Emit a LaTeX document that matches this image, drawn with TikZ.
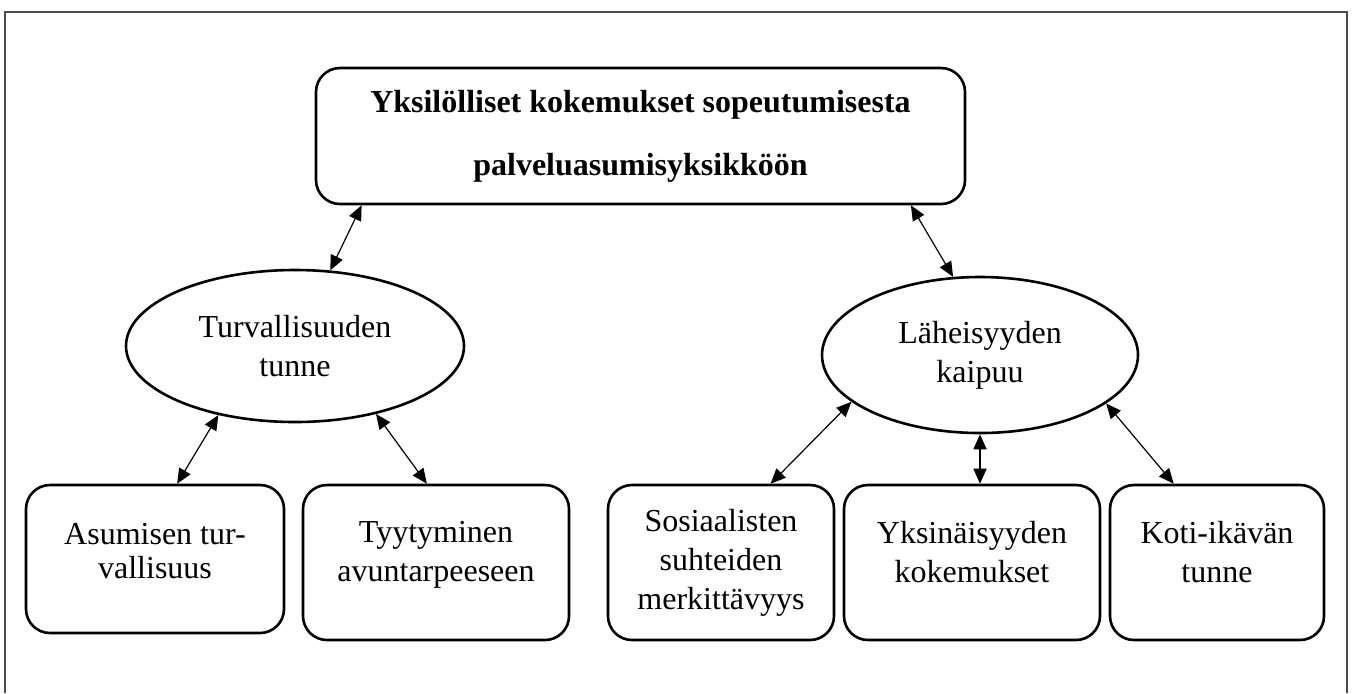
\documentclass[tikz,border=0pt]{standalone}
\usepackage{fontspec}
\setmainfont{Liberation Serif}
\usetikzlibrary{shapes.geometric,arrows.meta,calc}
\begin{document}
\begin{tikzpicture}[x=0.5pt,y=-0.5pt,
  txt/.style={font=\fontsize{16}{19.5}\selectfont},
  box/.style={draw,line width=1.3pt,rounded corners=12pt,align=center,inner sep=0pt,txt},
  oval/.style={draw,ellipse,line width=1.3pt,align=center,inner sep=0pt,txt},
  link/.style={line width=0.6pt,{Triangle[length=7.5pt,width=6.5pt]}-{Triangle[length=7.5pt,width=6.5pt]}},
  frame/.style={draw=black!70,line width=1pt}
]
\useasboundingbox (0,0) rectangle (1352,693);
\draw[frame] (5,693) -- (5,12) -- (1347,12) -- (1347,693);

\node[box, minimum width=324.5pt, minimum height=68pt,
      font=\bfseries\fontsize{16}{31.5}\selectfont] (top) at (640.5,136)
  {Yksilölliset kokemukset sopeutumisesta\\palveluasumisyksikköön};

\node[oval, minimum width=169pt, minimum height=76pt] (sec) at (295,346) {Turvallisuuden\\tunne};
\node[oval, minimum width=158pt, minimum height=78pt] (near) at (980,355) {Läheisyyden\\kaipuu};

\node[box, minimum width=129pt, minimum height=74pt, font=\fontsize{16}{17}\selectfont, text depth=8pt] (a) at (155,559) {Asumisen tur-\\vallisuus};
\node[box, minimum width=133pt, minimum height=77.5pt, text depth=11.5pt] (b) at (436,562.5) {Tyytyminen\\avuntarpeeseen};
\node[box, minimum width=113pt, minimum height=77.5pt] (c) at (721,562.5) {Sosiaalisten\\suhteiden\\merkittävyys};
\node[box, minimum width=128pt, minimum height=77.5pt, text depth=11pt] (d) at (972,562.5) {Yksinäisyyden\\kokemukset};
\node[box, minimum width=107pt, minimum height=77.5pt, text depth=11pt] (e) at (1217,562.5) {Koti-ikävän\\tunne};

\draw[link] ($(top.south west)!0.072!(top.south east)$) -- (sec.65.8);
\draw[link] ($(top.south west)!0.915!(top.south east)$) -- (near.109.3);
\draw[link] (sec.222.3) -- ($(a.north west)!0.585!(a.north east)$);
\draw[link] (sec.320) -- ($(b.north west)!0.466!(b.north east)$);
\draw[link] (near.200) -- ($(c.north west)!0.717!(c.north east)$);
\draw[link, line width=0.9pt] (near.south) -- (near.south |- d.north);
\draw[link] (near.339.4) -- ($(e.north west)!0.3!(e.north east)$);
\end{tikzpicture}
\end{document}
